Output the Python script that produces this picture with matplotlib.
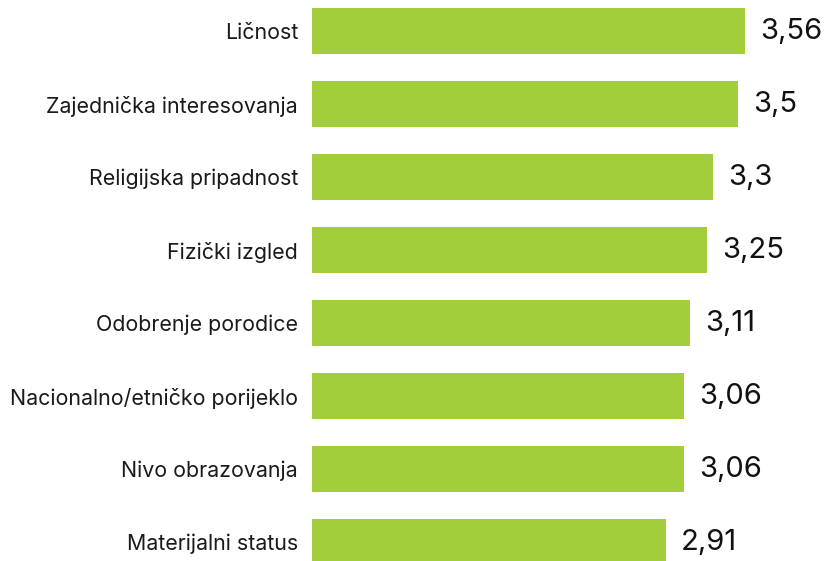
import matplotlib.pyplot as plt
import numpy as np

categories = ["Ličnost", "Zajednička interesovanja", "Religijska pripadnost",
              "Fizički izgled", "Odobrenje porodice", "Nacionalno/etničko porijeklo",
              "Nivo obrazovanja", "Materijalni status"]
values = [3.56, 3.5, 3.3, 3.25, 3.11, 3.06, 3.06, 2.91]
value_labels = ["3,56", "3,5", "3,3", "3,25", "3,11", "3,06", "3,06", "2,91"]

plt.rcParams['font.family'] = ['Inter', 'DejaVu Sans']

fig = plt.figure(figsize=(8.24, 5.61), dpi=100)
ax = fig.add_axes([312 / 824, 0, 512 / 824, 1])

y = np.arange(len(categories))
ax.barh(y, values, height=0.63, color="#a3ce3c")

for yi, v, lab in zip(y, values, value_labels):
    ax.annotate(lab, (v, yi), xytext=(11, 0), textcoords="offset points",
                va="center", ha="left", fontsize=21, color="#111111")

ax.set_yticks(y)
ax.set_yticklabels(categories, fontsize=15.4, color="#1a1a1a")
ax.tick_params(axis="y", length=0, pad=10)
ax.set_xticks([])
ax.set_xlim(0, 4.21)
ax.set_ylim(7.26, -0.425)
for s in ax.spines.values():
    s.set_visible(False)

fig.savefig("out.png", dpi=100)
